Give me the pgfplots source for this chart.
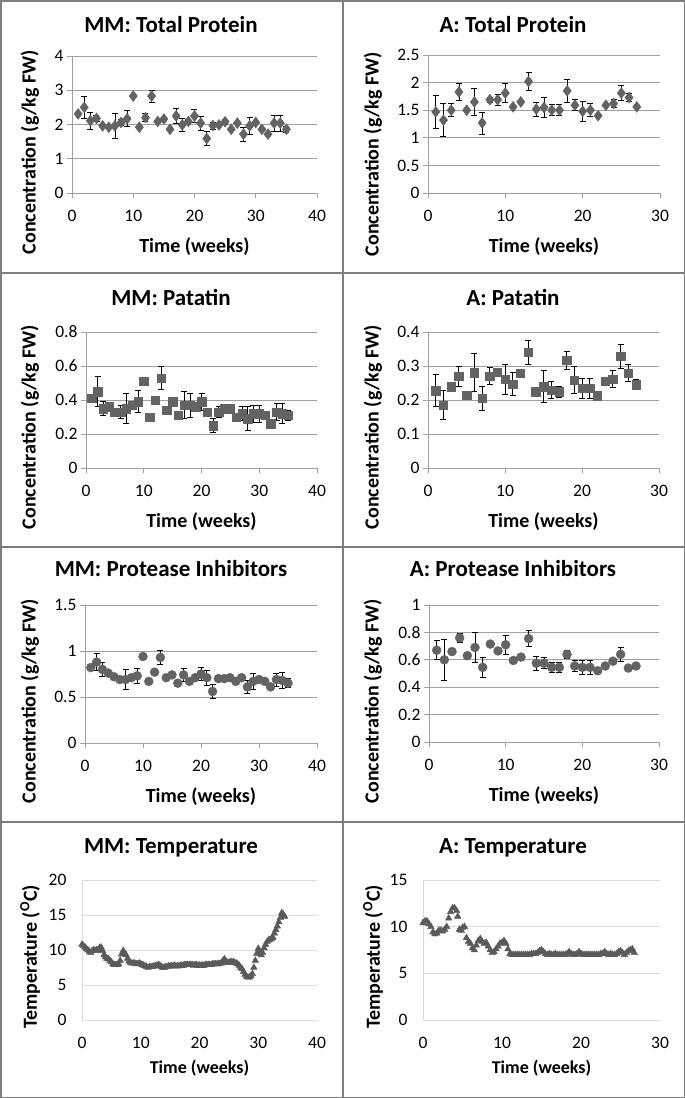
\documentclass[border=0pt]{standalone}
\usepackage{fontspec}
\setmainfont{Carlito}
\usepackage{pgfplots}
\pgfplotsset{compat=1.18}
\definecolor{mk}{RGB}{99,99,99}
\definecolor{mkt}{RGB}{90,90,90}
\definecolor{gridc}{RGB}{160,160,160}
\definecolor{gridl}{RGB}{217,217,217}
\definecolor{framec}{RGB}{125,125,125}
\pgfplotsset{
  panel/.style={
    scale only axis, anchor=south west, clip=false,
    axis x line*=bottom, axis y line*=left,
    tick align=outside, major tick length=5pt,
    ymajorgrids,
    axis line style={gridc, line width=0.9pt},
    major tick style={gridc, line width=0.9pt},
    major grid style={gridc, line width=0.9pt},
    ticklabel style={font=\fontsize{17.5}{20}\selectfont, text=black},
    xticklabel style={yshift=-9pt},
    /pgf/number format/assume math mode=true,
    every axis x label/.style={at={(axis description cs:0.5,0)}, anchor=center, yshift=-54pt, font=\bfseries\fontsize{20}{24}\selectfont},
    xlabel={Time (weeks)},
    xmin=0, ymin=0,
  },
  tpanel/.style={panel,
    major tick length=0pt,
    axis line style={gridl, line width=0.9pt},
    major tick style={draw=none},
    major grid style={gridl, line width=0.9pt},
    every axis x label/.style={at={(axis description cs:0.5,0)}, anchor=center, yshift=-48pt, font=\bfseries\fontsize{18}{22}\selectfont},
    yticklabel style={xshift=-12pt},
    xticklabel style={yshift=-5pt},
  },
  mmx/.style={xmax=40, xtick={0,10,20,30,40}},
  ax/.style={xmax=30, xtick={0,10,20,30}},
  ebar/.style={only marks, mark options={fill=mk, draw=mk},
    error bars/y dir=both, error bars/y explicit,
    error bars/error bar style={black, line width=0.7pt},
    error bars/error mark options={rotate=90, black, mark size=3pt, line width=0.7pt}},
  ttri/.style={only marks, mark=triangle*, mark size=3.8pt, mark options={fill=mkt, draw=mkt}},
}
\begin{document}
\begin{tikzpicture}
\useasboundingbox (0pt,0pt) rectangle (685pt,-1098pt);
% panel frames
\draw[framec, line width=1.5pt] (0.75pt,-0.75pt) rectangle (684.25pt,-1097.25pt);
\draw[framec, line width=1.5pt] (343pt,0pt) -- (343pt,-1098pt);
\draw[framec, line width=1.5pt] (0pt,-273pt) -- (685pt,-273pt);
\draw[framec, line width=1.5pt] (0pt,-547pt) -- (685pt,-547pt);
\draw[framec, line width=1.5pt] (0pt,-822pt) -- (685pt,-822pt);

% ---------- Panel 1: MM Total Protein
\begin{axis}[panel, mmx, at={(72pt,-193pt)}, width=245pt, height=137pt,
  ymax=4, ytick={0,1,2,3,4}]
\addplot+[mark=diamond*, mark size=5.5pt, ebar] table[x=x,y=y,y error=e] {
x y e
1 2.31 0
2 2.50 0.32
3 2.11 0.24
4 2.18 0.08
5 1.96 0.04
6 1.92 0
7 1.96 0.36
8 2.06 0.08
9 2.17 0.23
10 2.83 0
11 1.92 0
12 2.20 0.12
13 2.83 0.17
14 2.09 0
15 2.16 0.05
16 1.86 0
17 2.25 0.22
18 1.99 0.19
19 2.09 0.05
20 2.25 0.18
21 2.04 0.20
22 1.59 0.21
23 1.97 0.10
24 1.99 0
25 2.08 0.08
26 1.86 0
27 2.04 0
28 1.72 0.20
29 1.96 0.25
30 2.06 0.04
31 1.86 0
32 1.72 0
33 2.04 0.23
34 2.04 0.23
35 1.86 0.10
};
\end{axis}

% ---------- Panel 2: A Total Protein
\begin{axis}[panel, ax, at={(428pt,-193pt)}, width=232pt, height=138pt,
  ymax=2.5, ytick={0,0.5,1,1.5,2,2.5}]
\addplot+[mark=diamond*, mark size=5.5pt, ebar] table[x=x,y=y,y error=e] {
x y e
1 1.47 0.30
2 1.32 0.30
3 1.50 0.12
4 1.83 0.15
5 1.50 0
6 1.65 0.24
7 1.27 0.20
8 1.69 0.05
9 1.69 0.10
10 1.81 0.17
11 1.56 0
12 1.65 0
13 2.02 0.16
14 1.52 0.13
15 1.55 0.18
16 1.50 0.10
17 1.50 0.10
18 1.85 0.20
19 1.59 0.10
20 1.48 0.18
21 1.50 0.12
22 1.40 0
23 1.59 0
24 1.62 0.07
25 1.81 0.14
26 1.73 0.07
27 1.56 0
};
\end{axis}

% ---------- Panel 3: MM Patatin
\begin{axis}[panel, mmx, at={(86pt,-468pt)}, width=231pt, height=136pt,
  ymax=0.8, ytick={0,0.2,0.4,0.6,0.8}]
\addplot+[mark=square*, mark size=4.2pt, ebar] table[x=x,y=y,y error=e] {
x y e
1 0.41 0
2 0.45 0.09
3 0.35 0.04
4 0.36 0
5 0.33 0
6 0.33 0.04
7 0.35 0.09
8 0.37 0
9 0.39 0.065
10 0.51 0
11 0.30 0
12 0.40 0
13 0.53 0.07
14 0.34 0
15 0.39 0
16 0.31 0
17 0.37 0.08
18 0.37 0.07
19 0.36 0
20 0.39 0.05
21 0.33 0
22 0.25 0.04
23 0.33 0.03
24 0.35 0
25 0.35 0
26 0.30 0
27 0.32 0.04
28 0.29 0.07
29 0.32 0.05
30 0.32 0.05
31 0.31 0
32 0.26 0
33 0.33 0.05
34 0.32 0.06
35 0.31 0.03
};
\end{axis}

% ---------- Panel 4: A Patatin
\begin{axis}[panel, ax, at={(428pt,-468pt)}, width=231pt, height=136pt,
  ymax=0.4, ytick={0,0.1,0.2,0.3,0.4}]
\addplot+[mark=square*, mark size=4.2pt, ebar] table[x=x,y=y,y error=e] {
x y e
1 0.227 0.047
2 0.185 0.043
3 0.239 0
4 0.270 0.030
5 0.215 0
6 0.280 0.056
7 0.206 0.035
8 0.270 0.025
9 0.281 0
10 0.261 0.045
11 0.247 0.034
12 0.278 0
13 0.340 0.035
14 0.225 0
15 0.239 0.047
16 0.229 0.025
17 0.224 0.015
18 0.317 0.027
19 0.259 0.040
20 0.235 0.030
21 0.235 0.030
22 0.213 0
23 0.255 0
24 0.261 0.025
25 0.328 0.035
26 0.279 0.025
27 0.245 0.015
};
\end{axis}

% ---------- Panel 5: MM Protease Inhibitors
\begin{axis}[panel, mmx, at={(85pt,-743pt)}, width=232pt, height=138pt,
  ymax=1.5, ytick={0,0.5,1,1.5}]
\addplot+[mark=*, mark size=4.5pt, ebar] table[x=x,y=y,y error=e] {
x y e
1 0.82 0
2 0.88 0.09
3 0.80 0.08
4 0.76 0
5 0.72 0
6 0.69 0
7 0.69 0.11
8 0.71 0
9 0.73 0.08
10 0.94 0
11 0.67 0
12 0.77 0
13 0.93 0.08
14 0.71 0
15 0.74 0
16 0.65 0
17 0.74 0.07
18 0.67 0
19 0.71 0
20 0.75 0.07
21 0.71 0.08
22 0.56 0.08
23 0.70 0
24 0.70 0
25 0.71 0.02
26 0.67 0
27 0.71 0
28 0.61 0.07
29 0.67 0.09
30 0.69 0
31 0.67 0
32 0.61 0
33 0.69 0.07
34 0.68 0.09
35 0.65 0.05
};
\end{axis}

% ---------- Panel 6: A Protease Inhibitors
\begin{axis}[panel, ax, at={(429pt,-742pt)}, width=230pt, height=137pt,
  ymax=1, ytick={0,0.2,0.4,0.6,0.8,1}]
\addplot+[mark=*, mark size=4.5pt, ebar] table[x=x,y=y,y error=e] {
x y e
1 0.670 0.07
2 0.600 0.15
3 0.660 0
4 0.760 0.03
5 0.630 0
6 0.690 0.11
7 0.545 0.07
8 0.715 0
9 0.665 0
10 0.710 0.07
11 0.595 0
12 0.620 0
13 0.755 0.06
14 0.575 0.05
15 0.575 0.04
16 0.545 0.04
17 0.545 0.04
18 0.640 0.03
19 0.555 0.04
20 0.545 0.05
21 0.545 0.05
22 0.520 0
23 0.555 0
24 0.590 0
25 0.640 0.05
26 0.540 0
27 0.555 0
};
\end{axis}

% ---------- Panel 7: MM Temperature
\begin{axis}[tpanel, mmx, at={(82pt,-1020pt)}, width=235pt, height=140pt,
  ymax=20, ytick={0,5,10,15,20}]
\addplot+[ttri] table[x=x,y=y] {
x y
0.00 10.8
0.25 10.6
0.50 10.4
0.75 10.2
1.00 10.0
1.25 9.8
1.50 9.6
1.75 9.9
2.00 10.0
2.25 9.9
2.50 10.0
2.75 10.1
3.00 10.3
3.25 10.4
3.50 9.9
3.75 9.3
4.00 9.0
4.25 8.8
4.50 8.7
4.75 8.5
5.00 8.3
5.25 8.0
5.50 7.9
5.75 7.9
6.00 7.9
6.25 8.0
6.50 8.5
6.75 9.4
7.00 9.9
7.25 9.6
7.50 9.3
7.75 8.8
8.00 8.4
8.25 8.2
8.50 8.1
8.75 8.1
9.00 8.1
9.25 8.0
9.50 8.0
9.75 8.1
10.00 8.0
10.25 7.9
10.50 7.8
10.75 7.7
11.00 7.6
11.25 7.5
11.50 7.6
11.75 7.6
12.00 7.6
12.25 7.7
12.50 7.7
12.75 7.8
13.00 7.9
13.25 7.8
13.50 7.6
13.75 7.5
14.00 7.5
14.25 7.6
14.50 7.6
14.75 7.7
15.00 7.7
15.25 7.7
15.50 7.7
15.75 7.8
16.00 7.7
16.25 7.7
16.50 7.7
16.75 7.8
17.00 7.8
17.25 7.8
17.50 7.9
17.75 7.9
18.00 7.9
18.25 7.9
18.50 7.9
18.75 7.9
19.00 7.8
19.25 7.9
19.50 7.9
19.75 7.8
20.00 7.8
20.25 7.8
20.50 7.8
20.75 7.8
21.00 7.9
21.25 7.9
21.50 7.9
21.75 7.9
22.00 7.9
22.25 8.0
22.50 8.0
22.75 8.0
23.00 8.0
23.25 8.0
23.50 8.1
23.75 8.1
24.00 8.5
24.25 8.7
24.50 8.4
24.75 8.2
25.00 8.2
25.25 8.3
25.50 8.3
25.75 8.3
26.00 8.2
26.25 8.1
26.50 8.0
26.75 7.8
27.00 7.5
27.25 7.3
27.50 6.9
27.75 6.5
28.00 6.2
28.25 6.1
28.50 6.1
28.75 6.3
29.00 6.6
29.25 7.5
29.50 8.5
29.75 9.5
30.00 10.2
30.25 9.8
30.50 9.3
30.75 9.6
31.00 10.3
31.25 10.8
31.50 11.2
31.75 11.4
32.00 11.5
32.25 11.6
32.50 11.8
32.75 12.4
33.00 12.9
33.25 13.4
33.50 14.0
33.75 14.6
34.00 15.3
34.25 15.1
34.50 14.8
};
\end{axis}

% ---------- Panel 8: A Temperature
\begin{axis}[tpanel, ax, at={(423pt,-1020pt)}, width=237pt, height=140pt,
  ymax=15, ytick={0,5,10,15}]
\addplot+[ttri] table[x=x,y=y] {
x y
0.00 10.4
0.25 10.6
0.50 10.6
0.75 10.3
1.00 10.0
1.25 9.4
1.50 9.2
1.75 9.3
2.00 9.6
2.25 9.6
2.50 9.5
2.75 9.7
3.00 10.0
3.25 10.9
3.50 11.6
3.75 12.0
4.00 12.0
4.25 11.7
4.40 11.1
4.60 9.7
4.85 9.6
5.00 9.9
5.25 10.0
5.50 8.8
5.75 8.4
6.00 8.2
6.25 7.7
6.50 7.5
6.75 8.0
7.00 8.5
7.25 8.7
7.50 8.4
7.75 8.2
8.00 8.3
8.25 7.9
8.50 7.5
8.75 7.2
9.00 7.3
9.25 7.6
9.50 7.9
9.75 8.2
10.00 8.3
10.25 8.5
10.50 8.2
10.75 7.6
11.00 7.1
11.25 7.0
11.50 7.0
11.75 7.0
12.00 7.0
12.25 7.0
12.50 7.0
12.75 7.0
13.00 7.0
13.25 7.0
13.50 7.0
13.75 7.1
14.00 7.1
14.25 7.1
14.50 7.2
14.75 7.4
15.00 7.5
15.25 7.3
15.50 7.1
15.75 7.0
16.00 7.1
16.25 7.0
16.50 7.0
16.75 7.1
17.00 7.0
17.25 7.0
17.50 7.0
17.75 7.0
18.00 7.0
18.25 7.1
18.50 7.3
18.75 7.1
19.00 7.0
19.25 7.0
19.50 7.1
19.75 7.3
20.00 7.1
20.25 7.0
20.50 7.0
20.75 7.0
21.00 7.0
21.25 7.0
21.50 7.0
21.75 7.0
22.00 7.0
22.25 7.0
22.50 7.1
22.75 7.1
23.00 7.3
23.25 7.1
23.50 7.0
23.75 7.1
24.00 7.0
24.25 7.0
24.50 7.1
24.75 7.3
25.00 7.4
25.25 7.2
25.50 7.0
25.75 7.2
26.00 7.4
26.25 7.5
26.50 7.6
26.75 7.2
};
\end{axis}

% ---------- Titles
\begin{scope}[every node/.style={font=\bfseries\fontsize{23}{27}\selectfont}]
\node at (171pt,-25pt) {MM: Total Protein};
\node at (513pt,-25pt) {A: Total Protein};
\node at (171pt,-297pt) {MM: Patatin};
\node at (513pt,-297pt) {A: Patatin};
\node at (171pt,-569pt) {MM: Protease Inhibitors};
\node at (513pt,-569pt) {A: Protease Inhibitors};
\node at (171pt,-848pt) {MM: Temperature};
\node at (513pt,-848pt) {A: Temperature};
\end{scope}
% ---------- Y labels
\begin{scope}[every node/.style={font=\bfseries\fontsize{20}{24}\selectfont, rotate=90, anchor=center}]
\node at (30pt,-152pt) {Concentration (g/kg FW)};
\node at (373pt,-154pt) {Concentration (g/kg FW)};
\node at (30pt,-427pt) {Concentration (g/kg FW)};
\node at (373pt,-427pt) {Concentration (g/kg FW)};
\node at (30pt,-701pt) {Concentration (g/kg FW)};
\node at (373pt,-701pt) {Concentration (g/kg FW)};
\node at (30pt,-957pt) {Temperature (\textsuperscript{O}C)};
\node at (373pt,-957pt) {Temperature (\textsuperscript{O}C)};
\end{scope}
\end{tikzpicture}
\end{document}
